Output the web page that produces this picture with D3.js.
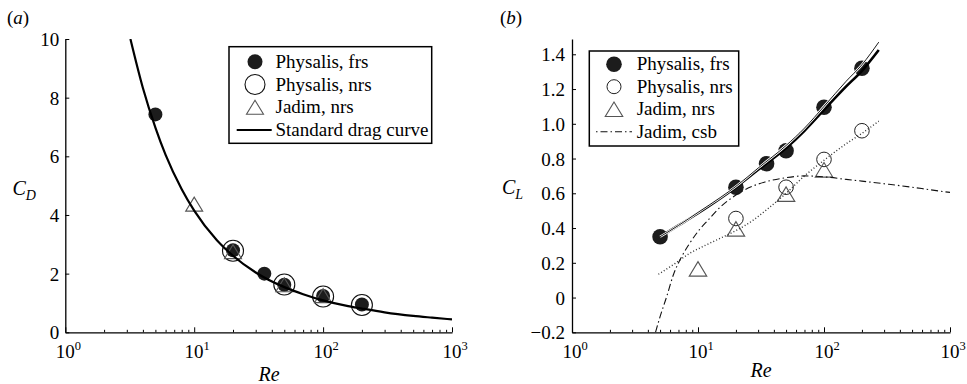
<!DOCTYPE html>
<html><head><meta charset="utf-8">
<script src="https://cdn.jsdelivr.net/npm/d3@7"></script>
<style>
html,body{margin:0;padding:0;background:#fff;}
svg{display:block;font-family:"Liberation Serif","Times New Roman",serif;}
</style></head><body>
<svg id="fig" width="967" height="384"></svg>
<script>
// Reynolds-number axis (shared by both panels)
const reTicks = [1, 10, 100, 1000];
const reTickExps = ["0", "1", "2", "3"];
const reMinor = [2,3,4,5,6,7,8,9, 20,30,40,50,60,70,80,90, 200,300,400,500,600,700,800,900];

// (a) drag coefficient
const cdTicks = [0, 2, 4, 6, 8, 10];
const frsRe = [5, 20, 35, 50, 100, 200];
const frsCD = [7.43, 2.8, 2.0, 1.62, 1.24, 0.95];
const nrsRe = [20, 50, 100, 200];
const nrsCD = [2.78, 1.63, 1.22, 0.93];
const jadimRe = [10, 20, 50, 100];
const jadimCD = [4.37, 2.75, 1.62, 1.25];
const stdRe = [3.2, 4, 5, 6, 8, 10, 15, 20, 30, 50, 70, 100, 150, 200, 300, 500, 700, 1000];
const stdCD = [10.0, 8.33, 6.98, 6.05, 4.88, 4.15, 3.14, 2.61, 2.04, 1.54, 1.30, 1.09, 0.91, 0.81, 0.68, 0.56, 0.50, 0.44];

// (b) lift coefficient
const clTicks = [-0.2, 0, 0.2, 0.4, 0.6, 0.8, 1.0, 1.2, 1.4];
const clTickLabels = ["\u22120.2", "0", "0.2", "0.4", "0.6", "0.8", "1.0", "1.2", "1.4"];
const frsCL = [0.35, 0.635, 0.77, 0.845, 1.095, 1.32];
const nrsCL = [0.455, 0.635, 0.795, 0.96];
const jadimCL = [0.165, 0.395, 0.595, 0.735];
const liftRe = [5, 7, 10, 15, 20, 30, 50, 70, 100, 150, 200, 272];
const liftThickCL = [0.35, 0.415, 0.485, 0.57, 0.635, 0.735, 0.86, 0.96, 1.08, 1.215, 1.305, 1.425];
const liftThinCL = [0.35, 0.415, 0.49, 0.575, 0.64, 0.745, 0.875, 0.975, 1.10, 1.245, 1.34, 1.47];
const nrsFitRe = [4.85, 6.6, 8.4, 11.4, 15.4, 20, 28, 35, 50, 70, 100, 150, 200, 272];
const nrsFitCL = [0.134, 0.197, 0.25, 0.30, 0.345, 0.385, 0.45, 0.505, 0.60, 0.70, 0.79, 0.885, 0.945, 1.015];
const csbRe = [4.6, 5.0, 5.64, 6.37, 7.42, 8.38, 10, 12, 15, 20, 25, 34, 50, 70, 100, 150, 200, 300, 500, 700, 1000];
const csbCL = [-0.2, -0.11, 0.005, 0.13, 0.235, 0.30, 0.38, 0.445, 0.52, 0.59, 0.63, 0.665, 0.69, 0.70, 0.695, 0.68, 0.67, 0.655, 0.635, 0.62, 0.605];

// legend entries
const legendA = ["Physalis, frs", "Physalis, nrs", "Jadim, nrs", "Standard drag curve"];
const legendB = ["Physalis, frs", "Physalis, nrs", "Jadim, nrs", "Jadim, csb"];

const svg = d3.select("#fig");
const FILL = "#1c1c1c";
const TRI = "#555";
const FS = 19;

function triPath(w, h) {
  return `M${-w/2},${h/2}L${w/2},${h/2}L0,${-h/2}Z`;
}

function drawAxes(g, x, y, yTicks, yLabels, labelPad) {
  // y axis with inward ticks
  const ya = d3.axisLeft(y).tickValues(yTicks).tickSizeInner(-4).tickSizeOuter(0)
    .tickPadding(labelPad).tickFormat((d, i) => yLabels[i]);
  const gy = g.append("g").attr("transform", `translate(${x.range()[0]},0)`).call(ya)
    .attr("font-family", null).attr("font-size", null);
  gy.select(".domain").attr("stroke", "#000").attr("stroke-width", 1.3);
  gy.selectAll(".tick line").attr("stroke", "#000").attr("stroke-width", 1);
  gy.selectAll(".tick text").attr("font-size", FS).attr("fill", "#000").attr("dy", "0.34em");

  // x axis: major + minor inward ticks
  const y0 = y.range()[0];
  const xa = d3.axisBottom(x).tickValues(reTicks).tickSizeInner(-5).tickSizeOuter(0).tickFormat("");
  const gx = g.append("g").attr("transform", `translate(0,${y0})`).call(xa);
  gx.select(".domain").attr("stroke", "#000").attr("stroke-width", 1.3);
  gx.selectAll(".tick line").attr("stroke", "#000").attr("stroke-width", 1);
  const xm = d3.axisBottom(x).tickValues(reMinor).tickSizeInner(-2.5).tickSizeOuter(0).tickFormat("");
  const gm = g.append("g").attr("transform", `translate(0,${y0})`).call(xm);
  gm.select(".domain").remove();
  gm.selectAll(".tick line").attr("stroke", "#000").attr("stroke-width", 1);

  // power-of-ten labels
  reTicks.forEach((v, i) => {
    const t = g.append("text").attr("x", x(v) + 3).attr("y", y0 + 26)
      .attr("text-anchor", "middle").attr("font-size", FS).attr("fill", "#000");
    t.append("tspan").text("10");
    t.append("tspan").attr("dy", -8).attr("font-size", 12.5).text(reTickExps[i]);
  });
}

function addLabel(g, px, py, main, sub) {
  const t = g.append("text").attr("x", px).attr("y", py).attr("font-size", 20)
    .attr("font-style", "italic").attr("fill", "#000");
  t.append("tspan").text(main);
  if (sub) t.append("tspan").attr("dy", 5).attr("font-size", 14).text(sub);
  return t;
}

function addPanelTag(g, px, letter) {
  const t = g.append("text").attr("x", px).attr("y", 24).attr("font-size", FS).attr("fill", "#000");
  t.append("tspan").text("(");
  t.append("tspan").attr("font-style", "italic").text(letter);
  t.append("tspan").text(")");
}

// ---------------- panel (a) ----------------
{
  const g = svg.append("g");
  const x = d3.scaleLog().domain([1, 1000]).range([65.3, 452]);
  const y = d3.scaleLinear().domain([0, 10]).range([332.3, 39]);
  drawAxes(g, x, y, cdTicks, cdTicks.map(String), 6);

  g.append("defs").append("clipPath").attr("id", "clipA").append("rect")
    .attr("x", 65.3).attr("y", 39).attr("width", 452 - 65.3).attr("height", 332.3 - 39);

  g.selectAll(".frs").data(frsRe).join("circle")
    .attr("cx", d => x(d)).attr("cy", (d, i) => y(frsCD[i])).attr("r", 7).attr("fill", FILL);
  g.selectAll(".nrs").data(nrsRe).join("circle")
    .attr("cx", d => x(d)).attr("cy", (d, i) => y(nrsCD[i])).attr("r", 10.5)
    .attr("fill", "none").attr("stroke", "#111").attr("stroke-width", 1.1);
  g.selectAll(".jad").data(jadimRe).join("path")
    .attr("d", triPath(17, 14))
    .attr("transform", (d, i) => `translate(${x(d)},${y(jadimCD[i])})`)
    .attr("fill", "none").attr("stroke", TRI).attr("stroke-width", 1.1);

  const line = d3.line().x(d => x(d[0])).y(d => y(d[1])).curve(d3.curveMonotoneX);
  g.append("path").attr("d", line(stdRe.map((r, i) => [r, stdCD[i]])))
    .attr("clip-path", "url(#clipA)")
    .attr("fill", "none").attr("stroke", "#000").attr("stroke-width", 2.2);

  // legend
  const lg = g.append("g");
  lg.append("rect").attr("x", 229).attr("y", 46.7).attr("width", 202.7).attr("height", 96.6)
    .attr("fill", "#fff").attr("stroke", "#000").attr("stroke-width", 1.5);
  const rows = [61.7, 84.5, 107.3, 130];
  lg.append("circle").attr("cx", 255).attr("cy", rows[0]).attr("r", 7.5).attr("fill", FILL);
  lg.append("circle").attr("cx", 255).attr("cy", rows[1]).attr("r", 10)
    .attr("fill", "none").attr("stroke", "#111").attr("stroke-width", 1.1);
  lg.append("path").attr("d", triPath(17, 14)).attr("transform", `translate(255,${rows[2]})`)
    .attr("fill", "none").attr("stroke", TRI).attr("stroke-width", 1.1);
  lg.append("line").attr("x1", 236.7).attr("x2", 271.7).attr("y1", rows[3]).attr("y2", rows[3])
    .attr("stroke", "#000").attr("stroke-width", 2.2);
  legendA.forEach((s, i) => lg.append("text").attr("x", 275.5).attr("y", rows[i] + 6)
    .attr("font-size", FS).attr("fill", "#000").text(s));

  addLabel(g, 12.5, 195, "C", "D");
  addLabel(g, 269, 381, "Re").attr("text-anchor", "middle");
  addPanelTag(g, 7, "a");
}

// ---------------- panel (b) ----------------
{
  const g = svg.append("g");
  const x = d3.scaleLog().domain([1, 1000]).range([572, 950]);
  const y = d3.scaleLinear().domain([-0.2, 1.488]).range([332.3, 39]);
  drawAxes(g, x, y, clTicks, clTickLabels, 7);

  g.append("defs").append("clipPath").attr("id", "clipB").append("rect")
    .attr("x", 572).attr("y", 39).attr("width", 950 - 572).attr("height", 332.3 - 39);

  const line = d3.line().x(d => x(d[0])).y(d => y(d[1])).curve(d3.curveMonotoneX);

  g.selectAll(".frs").data(frsRe).join("circle")
    .attr("cx", d => x(d)).attr("cy", (d, i) => y(frsCL[i])).attr("r", 7.8).attr("fill", FILL);
  g.selectAll(".nrs").data(nrsRe).join("circle")
    .attr("cx", d => x(d)).attr("cy", (d, i) => y(nrsCL[i])).attr("r", 7.3)
    .attr("fill", "none").attr("stroke", "#222").attr("stroke-width", 1);
  g.selectAll(".jad").data(jadimRe).join("path")
    .attr("d", triPath(17.5, 14.5))
    .attr("transform", (d, i) => `translate(${x(d)},${y(jadimCL[i])})`)
    .attr("fill", "none").attr("stroke", TRI).attr("stroke-width", 1.1);

  // dotted fit through the nrs results
  g.append("path").attr("d", line(nrsFitRe.map((r, i) => [r, nrsFitCL[i]])))
    .attr("fill", "none").attr("stroke", "#333").attr("stroke-width", 1.4)
    .attr("stroke-dasharray", "1,2.2");
  // dash-dot csb curve
  g.append("path").attr("d", line(csbRe.map((r, i) => [r, csbCL[i]])))
    .attr("clip-path", "url(#clipB)")
    .attr("fill", "none").attr("stroke", "#111").attr("stroke-width", 1.1)
    .attr("stroke-dasharray", "7,3,1.5,3");
  // thick and thin frs fits
  g.append("path").attr("d", line(liftRe.map((r, i) => [r, liftThickCL[i]])))
    .attr("fill", "none").attr("stroke", "#000").attr("stroke-width", 2.6);
  const thin = line(liftRe.map((r, i) => [r, liftThinCL[i]]));
  g.append("path").attr("d", thin).attr("fill", "none").attr("stroke", "#fff").attr("stroke-width", 2.4);
  g.append("path").attr("d", thin).attr("fill", "none").attr("stroke", "#000").attr("stroke-width", 0.9);

  // legend
  const lg = g.append("g");
  lg.append("rect").attr("x", 589.3).attr("y", 51).attr("width", 149.4).attr("height", 95)
    .attr("fill", "#fff").attr("stroke", "#000").attr("stroke-width", 1.5);
  const rows = [64.3, 86.7, 109.3, 131.7];
  lg.append("circle").attr("cx", 614).attr("cy", rows[0]).attr("r", 7.8).attr("fill", FILL);
  lg.append("circle").attr("cx", 614).attr("cy", rows[1]).attr("r", 7)
    .attr("fill", "none").attr("stroke", "#222").attr("stroke-width", 1);
  lg.append("path").attr("d", triPath(17.5, 14.5)).attr("transform", `translate(614,${rows[2]})`)
    .attr("fill", "none").attr("stroke", TRI).attr("stroke-width", 1.1);
  lg.append("line").attr("x1", 596).attr("x2", 632).attr("y1", rows[3]).attr("y2", rows[3])
    .attr("stroke", "#111").attr("stroke-width", 1.1).attr("stroke-dasharray", "1.5,3,7,3");
  legendB.forEach((s, i) => lg.append("text").attr("x", 636.7).attr("y", rows[i] + 6)
    .attr("font-size", FS).attr("fill", "#000").text(s));

  addLabel(g, 502, 194, "C", "L");
  addLabel(g, 761, 377, "Re").attr("text-anchor", "middle");
  addPanelTag(g, 500, "b");
}
</script>
</body></html>
